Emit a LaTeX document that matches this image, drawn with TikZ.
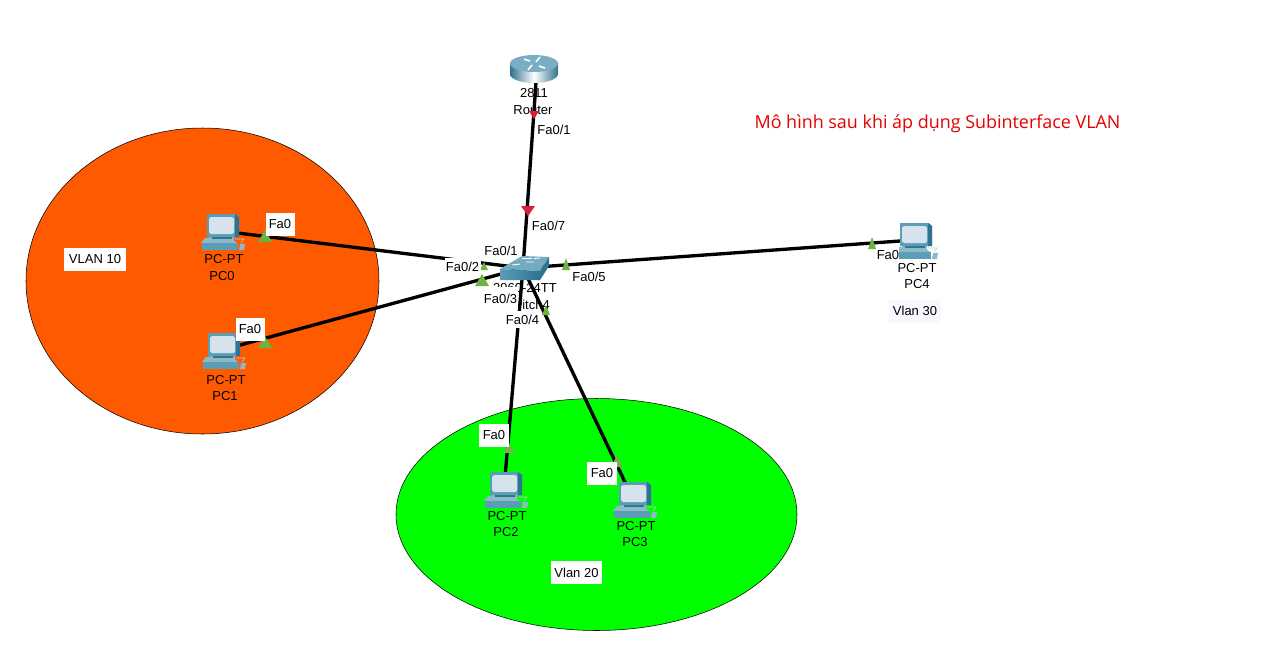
\documentclass[tikz,border=0pt]{standalone}
\usepackage{fontspec}
\setmainfont{Liberation Sans}
\newfontfamily\titlefont{Open Sans}
\usepackage{tikz}
\usetikzlibrary{calc}
\definecolor{vlanOrange}{HTML}{FF5A00}
\definecolor{vlanGreen}{HTML}{00FF00}
\definecolor{portGreen}{HTML}{6DB33F}
\definecolor{portDim}{HTML}{78B050}
\definecolor{portRed}{HTML}{D9203A}
\definecolor{pcBlue}{HTML}{5A9DB6}
\definecolor{pcDark}{HTML}{2F7390}
\definecolor{pcScreen}{HTML}{D6E3EC}
\definecolor{pcKey}{HTML}{8DB9C9}
\newcommand{\colorTitle}{red!90!black}
% triangle: tip x, tip y, half width, height (negative height points down)
\newcommand{\porttip}[5]{\fill[#1] (#2, #3) -- (#2+#4, #3+#5) -- (#2-#4, #3+#5) -- cycle;}
\tikzset{
  vlanarea/.style={draw=black, line width=0.3pt},
  link/.style={draw=black, line width=1.9pt},
  devtext/.style={font=\fontsize{7.4}{9}\selectfont, inner sep=0pt, text=black},
  portbox/.style={devtext, fill=white, minimum width=#1*0.02cm, minimum height=0.34cm},
  tagbox/.style={devtext, fill=white, minimum width=#1*0.02cm, minimum height=0.46cm},
  pics/pcicon/.style={code={
    \fill[pcKey] (-16, 7) -- (10, 7) -- (16, 12) -- (-20, 12) -- cycle;
    \fill[pcBlue] (-19, 12) rectangle (17, 19);
    \fill[pcKey] (-12, 6) rectangle (13, 10);
    \fill[pcDark] (-9, 6) rectangle (11, 8);
    \fill[pcBlue] (-14, -17) -- (15, -17) -- (18, -14) -- (18, 6) -- (-14, 6) -- cycle;
    \fill[pcDark] (14, -17) -- (18, -14) -- (18, 6) -- (14, 6) -- cycle;
    \fill[pcScreen, rounded corners=1pt] (-12, -14) rectangle (13, 3);
    \fill[pcKey] (19, 13) -- (24, 13) -- (23, 19) -- (18, 19) -- cycle;
    \draw[pcKey!70, line width=0.3pt] (20, 12) -- (23, 8) -- (14, 8);
  }}
}
\begin{document}
\begin{tikzpicture}[x=0.02cm, y=-0.02cm]
  \useasboundingbox (0, 0) rectangle (1276, 667);

  \fill[white] (0, 0) rectangle (1276, 667);
  \draw[vlanarea, fill=vlanOrange] (202.5, 281) ellipse [x radius=176.5, y radius=153];
  \draw[vlanarea, fill=vlanGreen] (596.5, 514.5) ellipse [x radius=200.5, y radius=116];

  \coordinate (router) at (537, 68);
  \coordinate (switch) at (523, 268);
  \coordinate (pc0) at (221, 231);
  \coordinate (pc1) at (222, 350);
  \coordinate (pc2) at (504, 489);
  \coordinate (pc3) at (633, 499);
  \coordinate (pc4) at (914, 240);

  % device names go under the links
  \node[devtext] (routerModel) at (534, 93.5) {2811};
  \node[devtext] (routerName) at (533, 110.5) {Router};
  \node[devtext] (switchModel) at (525, 288.5) {2960-24TT};
  \node[devtext] (switchName) at (527, 304.5) {Switch4};
  \node[devtext] (pc0Model) at (224, 259.5) {PC-PT};
  \node[devtext] (pc0Name) at (222, 276.5) {PC0};
  \node[devtext] (pc1Model) at (226, 380.5) {PC-PT};
  \node[devtext] (pc1Name) at (225, 396.5) {PC1};
  \node[devtext] (pc2Model) at (507, 516.5) {PC-PT};
  \node[devtext] (pc2Name) at (506, 532.5) {PC2};
  \node[devtext] (pc3Model) at (636, 526.5) {PC-PT};
  \node[devtext] (pc3Name) at (635, 542.5) {PC3};
  \node[devtext] (pc4Model) at (917, 268.5) {PC-PT};
  \node[devtext] (pc4Name) at (917, 284.5) {PC4};

  \draw[link] (router) -- (switch);
  \draw[link] (pc0) -- (switch);
  \draw[link] (pc1) -- (switch);
  \draw[link] (pc2) -- (switch);
  \draw[link] (pc3) -- (switch);
  \draw[link] (pc4) -- (switch);

  % router
  \shade[left color=pcDark, right color=pcDark, middle color=white] (510, 63) -- (510, 74) arc [start angle=180, end angle=0, x radius=24, y radius=9] -- (558, 63) -- cycle;
  \fill[pcBlue!75!pcScreen] (534, 63.5) ellipse [x radius=24, y radius=8.5];
  \draw[white, line width=0.9pt] (524, 59) -- (530, 61) (545, 68) -- (539, 66) (540, 57) -- (536, 62) (528, 70) -- (532, 65);

  % switch
  \fill[pcBlue!85!white] (500, 269) -- (522, 256) -- (549, 257) -- (540, 271) -- cycle;
  \shade[left color=pcBlue, right color=pcDark] (500, 269) -- (540, 271) -- (540, 280) -- (500, 280) -- cycle;
  \fill[pcDark] (540, 271) -- (549, 257) -- (549, 266) -- (540, 280) -- cycle;
  \draw[white, line width=0.5pt] (512, 265) -- (520, 264) (526, 262) -- (534, 262) (522, 258.5) -- (532, 258.5) (534, 258.5) -- (540, 258);

  \pic at (pc0) {pcicon};
  \pic at (pc1) {pcicon};
  \pic at (pc2) {pcicon};
  \pic at (pc3) {pcicon};
  \pic at (pc4) {pcicon};

  % link lights
  \porttip{portRed}{534}{119}{5}{-8}
  \porttip{portRed}{528}{216}{7}{-10}
  \porttip{portGreen}{265}{230}{7}{12}
  \porttip{portGreen}{265}{336}{7}{12}
  \porttip{portGreen}{482}{274}{7}{12}
  \porttip{portGreen}{484}{262}{4}{8}
  \porttip{portGreen}{566}{258}{4}{12}
  \porttip{portGreen}{546}{305}{4}{10}
  \porttip{portDim}{509}{443}{6}{10}
  \porttip{portDim}{617}{455}{6}{12}
  \porttip{portGreen}{872}{237}{4}{12}

  % port labels
  \node[devtext] (routerFa) at (554, 129.5) {Fa0/1};
  \node[devtext] (switchFaSeven) at (548.5, 225.5) {Fa0/7};
  \node[devtext] (switchFaOne) at (501, 250.5) {Fa0/1};
  \node[portbox=36] (switchFaTwo) at (462.5, 266.5) {Fa0/2};
  \node[portbox=35, minimum height=0.46cm] (switchFaThree) at (500.5, 298.5) {Fa0/3};
  \node[portbox=35] (switchFaFour) at (522.5, 319.5) {Fa0/4};
  \node[devtext] (switchFaFive) at (589, 276.5) {Fa0/5};
  \node[tagbox=29] (pc0Fa) at (280, 224.5) {Fa0};
  \node[tagbox=29] (pc1Fa) at (250, 329.5) {Fa0};
  \node[tagbox=30] (pc2Fa) at (494, 435) {Fa0};
  \node[tagbox=30] (pc3Fa) at (602, 473) {Fa0};
  \node[portbox=21] (pc4Fa) at (888, 255.5) {Fa0};

  % vlan tags
  \node[tagbox=62] (vlanTen) at (95, 259) {VLAN 10};
  \node[tagbox=51] (vlanTwenty) at (576.5, 572.5) {Vlan 20};
  \node[tagbox=52, fill=blue!3] (vlanThirty) at (915, 311) {Vlan 30};

  \node[font=\titlefont\fontsize{10.2}{12}\selectfont, text=\colorTitle, inner sep=0pt] (title) at (937.5, 123.5) {Mô hình sau khi áp dụng Subinterface VLAN};
\end{tikzpicture}
\end{document}
